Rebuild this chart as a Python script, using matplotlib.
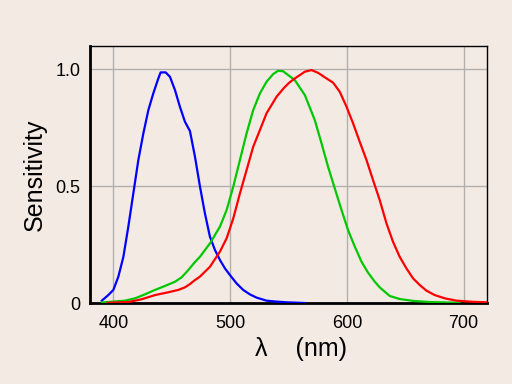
import matplotlib
matplotlib.use("Agg")
import matplotlib.pyplot as plt

# S cone (blue)
s_wl = [390.1, 395.7, 400, 404.3, 408.6, 412.8, 417.1, 421.4, 425.7, 430, 434.2, 438.5, 440.5, 444.8, 448.5,
        452.8, 457, 461.3, 465.6, 469.9, 474.2, 478.4, 482.7, 487, 491.3, 495.6, 499.8, 505.5, 511.2, 516.9,
        522.7, 531.2, 539.8, 548.3, 564]
s_val = [0.010, 0.034, 0.056, 0.113, 0.198, 0.326, 0.469, 0.612, 0.726, 0.826, 0.897, 0.961, 0.987, 0.987, 0.968,
         0.911, 0.840, 0.776, 0.736, 0.626, 0.498, 0.384, 0.284, 0.227, 0.184, 0.148, 0.120, 0.084, 0.056, 0.037,
         0.023, 0.010, 0.006, 0.003, 0.0]

# M cone (green)
m_wl = [390, 410, 418.6, 427.1, 435.7, 444.2, 452.8, 458.5, 464.2, 469.3, 474.2, 482.7, 491.3, 497, 502.7,
        508.4, 514.1, 519.8, 525.5, 531.2, 536.9, 541.1, 545.4, 555.4, 564, 572.5, 578.3, 583.9, 589.6, 595.4,
        601, 606.8, 612.5, 618.1, 623.9, 628.1, 636.7, 645.2, 656.6, 670.9, 696.6]
m_val = [0.002, 0.010, 0.020, 0.037, 0.056, 0.073, 0.091, 0.110, 0.141, 0.172, 0.198, 0.255, 0.327, 0.398, 0.498,
         0.612, 0.726, 0.826, 0.897, 0.947, 0.980, 0.994, 0.992, 0.954, 0.890, 0.783, 0.683, 0.583, 0.491, 0.398,
         0.312, 0.241, 0.177, 0.130, 0.091, 0.067, 0.030, 0.017, 0.009, 0.004, 0.001]

# L cone (red)
l_wl = [395, 412.8, 424.3, 435.7, 447.1, 455.6, 461.3, 465.6, 469.3, 474.2, 482.7, 491.3, 497, 502.7, 508.4,
        514.1, 519.8, 525.5, 531.2, 539.8, 546.2, 550.6, 555.4, 564, 569.7, 575.4, 581.1, 588.2, 593.9, 599.7,
        605.3, 611, 616.8, 622.4, 628.1, 633.9, 639.5, 645.2, 651, 656.6, 662.4, 668.1, 675.2, 683.8, 693.8,
        708, 720]
l_val = [0.001, 0.004, 0.016, 0.034, 0.046, 0.056, 0.067, 0.081, 0.096, 0.113, 0.155, 0.220, 0.277, 0.362, 0.469,
         0.569, 0.669, 0.740, 0.812, 0.883, 0.921, 0.943, 0.961, 0.990, 0.997, 0.985, 0.966, 0.943, 0.904, 0.840,
         0.769, 0.690, 0.612, 0.526, 0.441, 0.341, 0.262, 0.198, 0.148, 0.106, 0.077, 0.053, 0.034, 0.020, 0.010,
         0.005, 0.003]

xticks = [400, 500, 600, 700]
yticks = [0, 0.5, 1.0]
ytick_labels = ["0", "0.5", "1.0"]

plt.rcParams['font.family'] = ['Liberation Sans', 'DejaVu Sans']
bg = "#F4EAE4"
fig = plt.figure(figsize=(5.12, 3.84), dpi=100, facecolor=bg)
ax = fig.add_axes([90/512, 1-303/384, (487-90)/512, (303-46)/384], facecolor=bg)

ax.plot(s_wl, s_val, color="#0000FF", lw=1.6, zorder=3)
ax.plot(m_wl, m_val, color="#00C800", lw=1.6, zorder=3)
ax.plot(l_wl, l_val, color="#FF0000", lw=1.6, zorder=3)

ax.set_xlim(380, 720)
ax.set_ylim(0, 1.1)
ax.set_xticks(xticks)
ax.set_yticks(yticks)
ax.set_yticklabels(ytick_labels)
ax.grid(True, color="#B0B0B0", lw=1.0, zorder=0)
ax.tick_params(length=0, labelsize=13, colors="black")
ax.tick_params(axis='x', pad=9)
ax.tick_params(axis='y', pad=7)

for side in ["left", "bottom"]:
    ax.spines[side].set_linewidth(2.0)
for side in ["top", "right"]:
    ax.spines[side].set_linewidth(1.0)

ax.set_ylabel("Sensitivity", fontsize=18)
ax.yaxis.set_label_coords(-(90-47)/397, 0.5)
ax.set_xlabel("λ    (nm)", fontsize=18)
ax.xaxis.set_label_coords((301-90)/397, -(349-303)/257)
ax.xaxis.label.set_va("center")

fig.savefig("out.png", dpi=100, facecolor=bg)
